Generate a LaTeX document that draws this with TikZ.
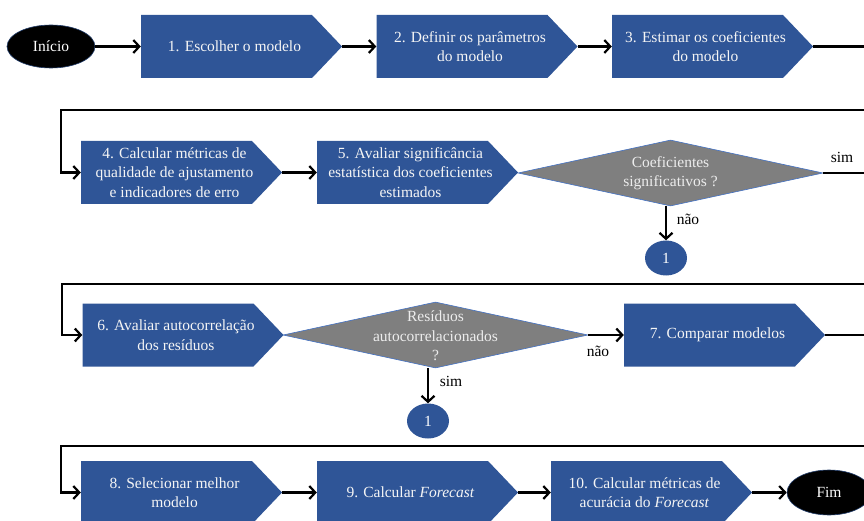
\documentclass[tikz,border=0pt]{standalone}
\usepackage{fontspec}
\setmainfont{Liberation Serif}
\usetikzlibrary{arrows.meta,shapes.geometric}
\definecolor{boxblue}{RGB}{47,85,151}
\definecolor{dgray}{RGB}{127,127,127}
\definecolor{dborder}{RGB}{68,114,196}
\begin{document}
\begin{tikzpicture}[x=1pt,y=-1pt,
  every node/.style={font=\fontsize{15.5}{19.5}\selectfont},
  abox/.style={rectangle, inner sep=0pt, minimum width=201pt, minimum height=63pt,
    path picture={\fill[boxblue] (path picture bounding box.north west)
      -- ([xshift=-30pt]path picture bounding box.north east)
      -- (path picture bounding box.east)
      -- ([xshift=-30pt]path picture bounding box.south east)
      -- (path picture bounding box.south west) -- cycle;}},
  btext/.style={text=white!96!black, align=center, inner sep=0pt},
  dia/.style={diamond, fill=dgray, draw=dborder, line width=0.6pt, inner sep=0pt,
    minimum width=305pt, minimum height=66pt},
  dtext/.style={text=white!93!black, align=center, inner sep=0pt},
  term/.style={ellipse, fill=black, draw=boxblue!70!black, line width=0.6pt, text=white,
    minimum width=88pt, minimum height=43pt, inner sep=0pt},
  conn/.style={draw=black, line width=2.2pt, -{Straight Barb[length=6pt,width=13pt,line width=2.2pt]}},
  circ/.style={ellipse, fill=boxblue, text=white, minimum width=42pt, minimum height=35pt, inner sep=0pt},
  lbl/.style={text=black, inner sep=0pt}
]
\useasboundingbox (0,0) rectangle (864,521);
\clip (0,0) rectangle (864,521);

% row 1
\node[term] (ini) at (51,46.5) {Início};
\node[abox, label={[btext,xshift=-7pt]center:{1. Escolher o modelo}}] (b1) at (241.5,46.5) {};
\node[abox, label={[btext,xshift=-7pt]center:{2. Definir os parâmetros\\do modelo}}] (b2) at (477,46.5) {};
\node[abox, label={[btext,xshift=-7pt]center:{3. Estimar os coeficientes\\do modelo}}] (b3) at (712.5,46.5) {};

% row 2
\node[abox, label={[btext,xshift=-7pt]center:{4. Calcular métricas de\\qualidade de ajustamento\\e indicadores de erro}}] (b4) at (181.5,172.5) {};
\node[abox, label={[btext,xshift=-7pt]center:{5. Avaliar significância\\estatística dos coeficientes\\estimados}}] (b5) at (417.5,172.5) {};
\node[dia, label={[dtext]center:{Coeficientes\\significativos ?}}] (d1) at (670.5,173) {};
\node[circ] (c1) at (666,258) {1};
\node[lbl] (s1) at (842,157) {sim};
\node[lbl] (n1) at (688,219) {não};

% row 3
\node[abox, label={[btext,xshift=-7pt]center:{6. Avaliar autocorrelação\\dos resíduos}}] (b6) at (183,335) {};
\node[dia, label={[dtext,yshift=-1pt]center:{Resíduos\\autocorrelacionados\\?}}] (d2) at (435.5,335) {};
\node[abox, label={[btext,xshift=-7pt]center:{7. Comparar modelos}}] (b7) at (724.5,335) {};
\node[circ] (c2) at (428,421) {1};
\node[lbl] (s2) at (451,381) {sim};
\node[lbl] (n2) at (598,351) {não};

% row 4
\node[abox, label={[btext,xshift=-7pt]center:{8. Selecionar melhor\\modelo}}] (b8) at (181.5,492.5) {};
\node[abox, label={[btext,xshift=-7pt]center:{9. Calcular \textit{Forecast}}}] (b9) at (417.5,492.5) {};
\node[abox, label={[btext,xshift=-7pt]center:{10. Calcular métricas de\\acurácia do \textit{Forecast}}}] (b10) at (651.5,492.5) {};
\node[term, minimum width=84pt, minimum height=45pt] (fim) at (829,492.5) {Fim};

% corner coordinates
\coordinate (r1) at (868,110);
\coordinate (l1) at (61,110);
\coordinate (r2) at (868,284);
\coordinate (l2) at (62,284);
\coordinate (r3) at (868,446);
\coordinate (l3) at (61,446);

% connectors
\draw[conn] (ini) -- (b1);
\draw[conn] (b1) -- (b2);
\draw[conn] (b2) -- (b3);
\draw[conn] (b3.east) -| (r1) -- (l1) |- (b4.west);
\draw[conn] (b4) -- (b5);
\draw[conn] (d1.east) -| (r2) -- (l2) |- (b6.west);
\draw[conn] (c1.north |- d1.south) -- (c1.north);
\draw[conn] (d2.east) -- (b7.west);
\draw[conn] (c2.north |- d2.south) -- (c2.north);
\draw[conn] (b7.east) -| (r3) -- (l3) |- (b8.west);
\draw[conn] (b8) -- (b9);
\draw[conn] (b9) -- (b10);
\draw[conn] (b10) -- (fim);
\end{tikzpicture}
\end{document}
